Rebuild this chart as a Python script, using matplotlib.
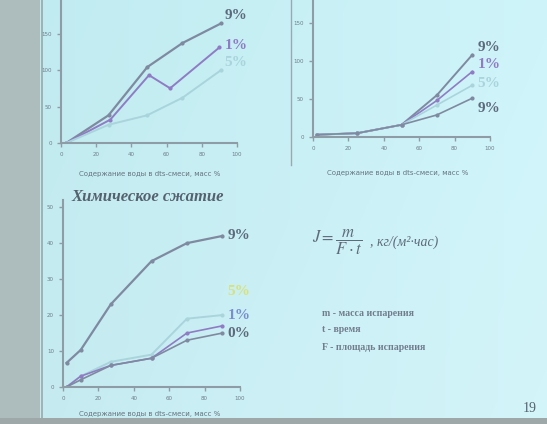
import matplotlib
matplotlib.use('Agg')
import matplotlib.pyplot as plt
import numpy as np

W, H = 547, 424

# top-left chart
x_tl = [3, 27, 49, 69, 91]
tl_9 = [0, 38, 104, 137, 164]
x_tl1 = [3, 28, 50, 62, 90]
tl_1 = [0, 32, 93, 75, 131]
tl_5 = [0, 25, 38, 62, 100]
tl_labels = ['9%', '1%', '5%']

# top-right chart
x_tr = [2, 25, 50, 70, 90]
tr_9a = [3, 5, 16, 55, 108]
tr_1 = [3, 5, 16, 48, 86]
tr_5 = [3, 5, 16, 42, 68]
tr_9b = [3, 5, 16, 29, 51]
tr_labels = ['9%', '1%', '5%', '9%']

# bottom-left chart ("Химическое сжатие")
x_bl = [2, 10, 27, 50, 70, 90]
bl_9 = [6.7, 10.3, 23, 35, 40, 42]
bl_5 = [0, 3, 7, 9, 19, 20]
bl_1 = [0, 3, 6, 8, 15, 17]
bl_0 = [0, 2, 6, 8, 13, 15]
bl_labels = ['9%', '5%', '1%', '0%']

x_ticks = [0, 20, 40, 60, 80, 100]
xlabel = 'Содержание воды в dts-смеси, масс %'

dark = '#7f8aa0'
purple = '#8f7cc4'
light = '#a9d4dc'
txt = '#5d6a7c'

fig = plt.figure(figsize=(W / 100, H / 100), dpi=100)

# slide background
bg = np.zeros((H, W, 3))
xx = np.linspace(0, 1, W)[None, :]
yy = np.linspace(0, 1, H)[:, None]
bg[..., 0] = 0.75 + 0.06 * xx + 0.02 * yy
bg[..., 1] = 0.92 + 0.04 * xx
bg[..., 2] = 0.94 + 0.04 * xx
bg[:, :40] = [0.68, 0.74, 0.74]
bg[418:, :] = [0.62, 0.66, 0.66]
bga = fig.add_axes([0, 0, 1, 1])
bga.imshow(bg, aspect='auto', extent=[0, W, H, 0])
bga.set_xlim(0, W)
bga.set_ylim(H, 0)
bga.axis('off')
bga.plot([42, 42], [0, 418], color='#9aa8a8', lw=1.2)
bga.plot([291, 291], [0, 165], color='#98aab0', lw=1)


def make_ax(left, right, bottom, top, ymax, yticks):
    ax = fig.add_axes([left / W, (H - bottom) / H, (right - left) / W, (bottom - top) / H])
    ax.set_facecolor('none')
    ax.set_xlim(0, 100)
    ax.set_ylim(0, ymax)
    for s in ['top', 'right']:
        ax.spines[s].set_visible(False)
    for s in ['left', 'bottom']:
        ax.spines[s].set_color('#8e9ca6')
        ax.spines[s].set_linewidth(1.5)
    ax.set_xticks(x_ticks)
    ax.set_yticks(yticks)
    ax.tick_params(colors='#8e9ca6', labelcolor='#6f7c8a', labelsize=4, length=3, width=1)
    return ax


def pct(ax, lab, yv, c):
    ax.text(93, yv, lab, color=c, fontsize=11, fontweight='bold', family='Liberation Serif', va='center')


# top-left
ax1 = make_ax(61, 237, 143, 0, 196, [0, 50, 100, 150])
ax1.plot(x_tl, tl_9, color=dark, lw=1.6, marker='o', ms=2)
ax1.plot(x_tl1, tl_1, color=purple, lw=1.4, marker='o', ms=2)
ax1.plot(x_tl, tl_5, color=light, lw=1.4, marker='o', ms=2)
for lab, yv, c in zip(tl_labels, [175, 134, 111], [txt, purple, light]):
    pct(ax1, lab, yv, c)
fig.text(150 / W, 1 - 174 / H, xlabel, ha='center', va='center', fontsize=5, color='#66737f')

# top-right
ax2 = make_ax(313, 490, 137, 0, 180, [0, 50, 100, 150])
ax2.plot(x_tr, tr_9a, color=dark, lw=1.4, marker='o', ms=2)
ax2.plot(x_tr, tr_1, color=purple, lw=1.2, marker='o', ms=2)
ax2.plot(x_tr, tr_5, color=light, lw=1.2, marker='o', ms=2)
ax2.plot(x_tr, tr_9b, color=dark, lw=1.2, marker='o', ms=2)
for lab, yv, c in zip(tr_labels, [118, 95, 70, 38], [txt, purple, light, txt]):
    pct(ax2, lab, yv, c)
fig.text(398 / W, 1 - 173 / H, xlabel, ha='center', va='center', fontsize=5, color='#66737f')

# bottom-left
ax3 = make_ax(63, 240, 387, 200, 52, [0, 10, 20, 30, 40, 50])
ax3.plot(x_bl, bl_9, color=dark, lw=1.6, marker='o', ms=2)
ax3.plot(x_bl, bl_5, color=light, lw=1.4, marker='o', ms=2)
ax3.plot(x_bl, bl_1, color=purple, lw=1.2, marker='o', ms=2)
ax3.plot(x_bl, bl_0, color=dark, lw=1.2, marker='o', ms=2)
for lab, yv, c in zip(bl_labels, [42, 26.5, 20, 15], [txt, '#d8e27a', '#7a8cd0', txt]):
    pct(ax3, lab, yv, c)
fig.text(150 / W, 1 - 414 / H, xlabel, ha='center', va='center', fontsize=5, color='#66737f')
fig.text(148 / W, 1 - 197 / H, 'Химическое сжатие', ha='center', va='center', fontsize=12,
         fontweight='bold', fontstyle='italic', family='Liberation Serif', color='#56616f')

# formula and notes
plt.rcParams['mathtext.fontset'] = 'stix'
fig.text(312 / W, 1 - 242 / H, r'$J=\dfrac{m}{F\cdot t}$', ha='left', va='center', fontsize=12, color='#5f6b7b')
fig.text(370 / W, 1 - 242 / H, ', кг/(м²·час)', ha='left', va='center', fontsize=10, fontstyle='italic',
         family='Liberation Serif', color='#5f6b7b')
notes = ['m - масса испарения', 't - время', 'F - площадь испарения']
for i, n in enumerate(notes):
    fig.text(322 / W, 1 - (313 + 17 * i) / H, n, ha='left', va='center', fontsize=7, fontweight='bold',
             family='Liberation Serif', color='#707c8c')
fig.text(530 / W, 1 - 408 / H, '19', ha='center', va='center', fontsize=10, family='Liberation Serif',
         color='#56616f')

fig.savefig('out.png', dpi=100)
